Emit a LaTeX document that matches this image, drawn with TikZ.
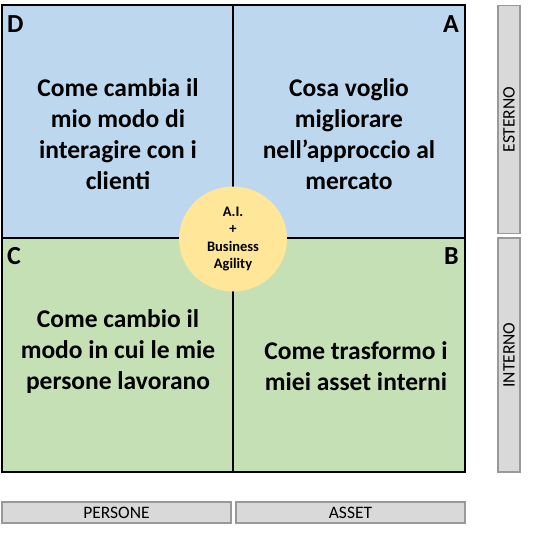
\documentclass[tikz,border=0pt]{standalone}
\usepackage{fontspec}
\setmainfont{Carlito}
\definecolor{qblue}{HTML}{BDD7EE}
\definecolor{qgreen}{HTML}{C5E0B4}
\definecolor{qyellow}{HTML}{FFE699}
\definecolor{qgray}{HTML}{D9D9D9}
\definecolor{qedge}{HTML}{999999}
\tikzset{
  quad/.style={draw=black, line width=1.3pt, inner sep=0pt, outer sep=0pt},
  maintext/.style={align=center, font=\bfseries\fontsize{25.5}{31}\selectfont},
  letter/.style={font=\bfseries\fontsize{26}{28}\selectfont, inner sep=0pt},
  tagtext/.style={font=\fontsize{17.5}{19}\selectfont},
  tag/.style={draw=qedge, fill=qgray, line width=1.3pt, inner sep=0pt, outer sep=0pt, tagtext},
  hub/.style={ellipse, fill=qyellow, inner sep=0pt, minimum width=108pt, minimum height=105pt, align=center, font=\bfseries\fontsize{14.5}{17.5}\selectfont}
}
\usetikzlibrary{shapes.geometric}
\begin{document}
\begin{tikzpicture}[x=1pt,y=-1pt]
\useasboundingbox (0,0) rectangle (533,537);
\fill[white] (0,0) rectangle (533,537);
% quadrants
\node[quad, fill=qblue, minimum width=231pt, minimum height=233pt] (qD) at (117.5,121.5) {};
\node[quad, fill=qblue, minimum width=232pt, minimum height=233pt] (qA) at (349,121.5) {};
\node[quad, fill=qgreen, minimum width=231pt, minimum height=234pt] (qC) at (117.5,355) {};
\node[quad, fill=qgreen, minimum width=232pt, minimum height=234pt] (qB) at (349,355) {};
\draw[line width=2pt] (qC.north west) -- (qB.north east);
% corner letters
\node[letter, anchor=north west] (lD) at (7,15) {D};
\node[letter, anchor=north east] (lA) at (459,15) {A};
\node[letter, anchor=north west] (lC) at (7,247) {C};
\node[letter, anchor=north east] (lB) at (459,247) {B};
% texts
\node[maintext] (tD) at (118,134) {Come cambia il\\mio modo di\\interagire con i\\clienti};
\node[maintext] (tA) at (349,134) {Cosa voglio\\migliorare\\nell’approccio al\\mercato};
\node[maintext] (tC) at (118,352) {Come cambio il\\modo in cui le mie\\persone lavorano};
\node[maintext] (tB) at (356,366) {Come trasformo i\\miei asset interni};
% hub
\node[hub] (hub) at (233,239) {A.I.\\+\\Business\\Agility};
% side tags
\node[tag, minimum width=22pt, minimum height=228pt] (est) at (509,119.5) {};
\node[rotate=90, tagtext] (estl) at (est.center) {ESTERNO};
\node[tag, minimum width=22pt, minimum height=234pt] (int) at (509,355) {};
\node[rotate=90, tagtext] (intl) at (int.center) {INTERNO};
\node[tag, minimum width=229pt, minimum height=21pt] (per) at (116.5,512.5) {PERSONE};
\node[tag, minimum width=229pt, minimum height=21pt] (ass) at (350.5,512.5) {ASSET};
\end{tikzpicture}
\end{document}
